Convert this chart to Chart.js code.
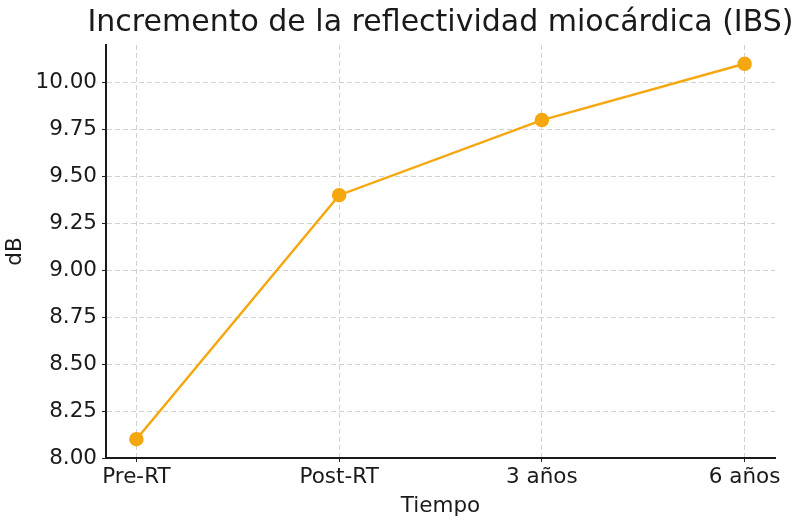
<!DOCTYPE html>
<html>
<head>
<meta charset="utf-8">
<script src="https://cdn.jsdelivr.net/npm/chart.js@4/dist/chart.umd.min.js"></script>
<style>
  html, body { margin: 0; padding: 0; background: #fff; }
  #wrap { width: 800px; height: 532px; }
</style>
</head>
<body>
<div id="wrap"><canvas id="c" width="800" height="532"></canvas></div>
<script>
const title = 'Incremento de la reflectividad miocárdica (IBS)';
const categories = ['Pre-RT', 'Post-RT', '3 años', '6 años'];
const values = [8.1, 9.4, 9.8, 10.1];
const yTicks = [8.0, 8.25, 8.5, 8.75, 9.0, 9.25, 9.5, 9.75, 10.0];

const FONT = "'DejaVu Sans', sans-serif";
const lineColor = '#f5a70f';
const textColor = '#1a1a1a';

// title centred over the plot area, like matplotlib does
const titlePlugin = {
  id: 'plotTitle',
  afterDraw(chart) {
    const { ctx, chartArea } = chart;
    ctx.save();
    ctx.font = `30px ${FONT}`;
    ctx.fillStyle = textColor;
    ctx.textAlign = 'center';
    ctx.textBaseline = 'middle';
    ctx.fillText(title, (chartArea.left + chartArea.right) / 2, 23);
    ctx.restore();
  }
};

new Chart(document.getElementById('c'), {
  type: 'line',
  data: {
    datasets: [{
      data: values.map((v, i) => ({ x: i, y: v })),
      borderColor: lineColor,
      backgroundColor: lineColor,
      borderWidth: 2.5,
      pointRadius: 6,
      pointHoverRadius: 6,
      tension: 0,
    }],
  },
  options: {
    responsive: false,
    animation: false,
    layout: { padding: { top: 45, right: 25, left: 0, bottom: 0 } },
    plugins: { legend: { display: false }, tooltip: { enabled: false } },
    scales: {
      x: {
        type: 'linear',
        min: -0.15, max: 3.15,
        afterBuildTicks: (s) => { s.ticks = categories.map((_, i) => ({ value: i })); },
        afterFit: (s) => { s.height = 74; },
        ticks: {
          callback: (v) => categories[v],
          font: { family: FONT, size: 21.5 }, color: textColor,
          padding: 3, maxRotation: 0,
        },
        grid: { color: '#d2d2d2', lineWidth: 1, tickColor: '#222', tickLength: 4, tickWidth: 1 },
        border: { display: true, color: '#1a1a1a', width: 2, dash: [5, 3] },
        title: { display: true, text: 'Tiempo', font: { family: FONT, size: 21.5 }, color: textColor, padding: { top: 0, bottom: 13 } },
      },
      y: {
        min: 8.0, max: 10.2,
        afterBuildTicks: (s) => { s.ticks = yTicks.map(v => ({ value: v })); },
        afterFit: (s) => { s.width = 106; },
        ticks: {
          callback: (v) => v.toFixed(2),
          font: { family: FONT, size: 21.5 }, color: textColor, padding: 5,
        },
        grid: { color: '#d2d2d2', lineWidth: 1, tickColor: '#222', tickLength: 4, tickWidth: 1 },
        border: { display: true, color: '#1a1a1a', width: 2, dash: [5, 3] },
        title: { display: true, text: 'dB', font: { family: FONT, size: 21.5 }, color: textColor, padding: { top: 3, bottom: 0 } },
      },
    },
  },
  plugins: [titlePlugin],
});
</script>
</body>
</html>
